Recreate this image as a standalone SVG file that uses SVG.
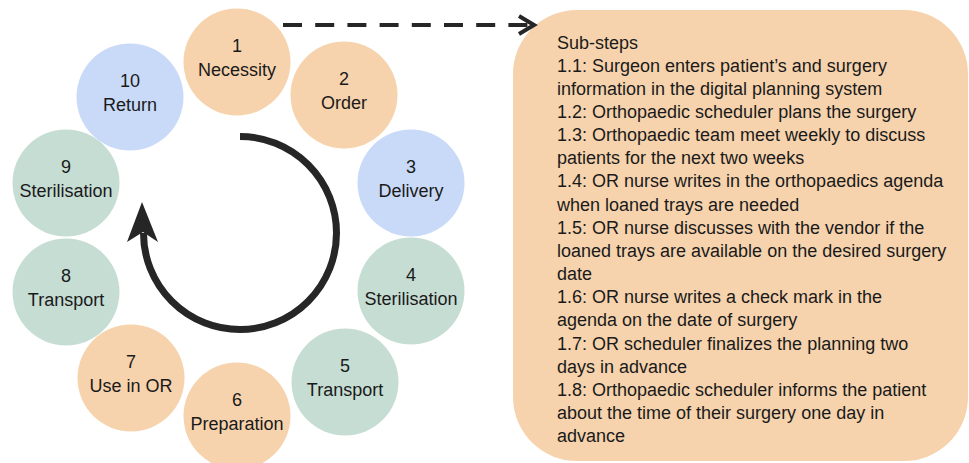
<svg xmlns="http://www.w3.org/2000/svg" width="969" height="463" viewBox="0 0 969 463">
<style>
.orange{fill:#F6D3AD}
.blue{fill:#C9DAF8}
.green{fill:#C6DDD4}
text{font-family:"Liberation Sans",Arial,sans-serif;font-size:18px;fill:#1a1a1a}
.c{text-anchor:middle}
.arc{fill:none;stroke:#262626;stroke-width:7}
.dash{fill:none;stroke:#262626;stroke-width:4;stroke-dasharray:19 13.2}
.chev{fill:none;stroke:#262626;stroke-width:4;stroke-linejoin:miter}
</style>
<rect width="969" height="463" fill="#ffffff"/>
<g id="node1"><circle class="orange" cx="237" cy="62" r="53.5"/><text class="c" x="237" y="52">1</text><text class="c" x="237" y="76">Necessity</text></g>
<g id="node2"><circle class="orange" cx="344" cy="95" r="53.5"/><text class="c" x="344" y="85">2</text><text class="c" x="344" y="109">Order</text></g>
<g id="node3"><circle class="blue" cx="411" cy="183" r="53.5"/><text class="c" x="411" y="173">3</text><text class="c" x="411" y="197">Delivery</text></g>
<g id="node4"><circle class="green" cx="411" cy="291" r="53.5"/><text class="c" x="411" y="281">4</text><text class="c" x="411" y="305">Sterilisation</text></g>
<g id="node5"><circle class="green" cx="345" cy="382" r="53.5"/><text class="c" x="345" y="372">5</text><text class="c" x="345" y="396">Transport</text></g>
<g id="node6"><circle class="orange" cx="237" cy="416" r="53.5"/><text class="c" x="237" y="406">6</text><text class="c" x="237" y="430">Preparation</text></g>
<g id="node7"><circle class="orange" cx="131" cy="378" r="53.5"/><text class="c" x="131" y="368">7</text><text class="c" x="131" y="392">Use in OR</text></g>
<g id="node8"><circle class="green" cx="66" cy="292" r="53.5"/><text class="c" x="66" y="282">8</text><text class="c" x="66" y="306">Transport</text></g>
<g id="node9"><circle class="green" cx="66" cy="183" r="53.5"/><text class="c" x="66" y="173">9</text><text class="c" x="66" y="197">Sterilisation</text></g>
<g id="node10"><circle class="blue" cx="130" cy="97" r="53.5"/><text class="c" x="130" y="87">10</text><text class="c" x="130" y="111">Return</text></g>
<g id="substeps">
<rect class="orange" x="513" y="10" width="455" height="451" rx="64" ry="64"/>
<text x="557" y="48.5">Sub-steps</text>
<text x="557" y="71.7">1.1: Surgeon enters patient’s and surgery</text>
<text x="557" y="94.8">information in the digital planning system</text>
<text x="557" y="118">1.2: Orthopaedic scheduler plans the surgery</text>
<text x="557" y="141.1">1.3: Orthopaedic team meet weekly to discuss</text>
<text x="557" y="164.3">patients for the next two weeks</text>
<text x="557" y="187.4">1.4: OR nurse writes in the orthopaedics agenda</text>
<text x="557" y="210.6">when loaned trays are needed</text>
<text x="557" y="233.7">1.5: OR nurse discusses with the vendor if the</text>
<text x="557" y="256.9">loaned trays are available on the desired surgery</text>
<text x="557" y="280">date</text>
<text x="557" y="303.2">1.6: OR nurse writes a check mark in the</text>
<text x="557" y="326.3">agenda on the date of surgery</text>
<text x="557" y="349.5">1.7: OR scheduler finalizes the planning two</text>
<text x="557" y="372.6">days in advance</text>
<text x="557" y="395.8">1.8: Orthopaedic scheduler informs the patient</text>
<text x="557" y="418.9">about the time of their surgery one day in</text>
<text x="557" y="442">advance</text>
</g>
<g id="connectors">
<path class="arc" d="M240 136.5 A96.5 96.5 0 1 1 143.5 233"/>
<polygon points="142,202 127,242 143,232 158,242" fill="#262626"/>
<path class="dash" d="M283 25 H528"/>
<polyline class="chev" points="519,16 534,25 519,34"/>
</g>
</svg>
